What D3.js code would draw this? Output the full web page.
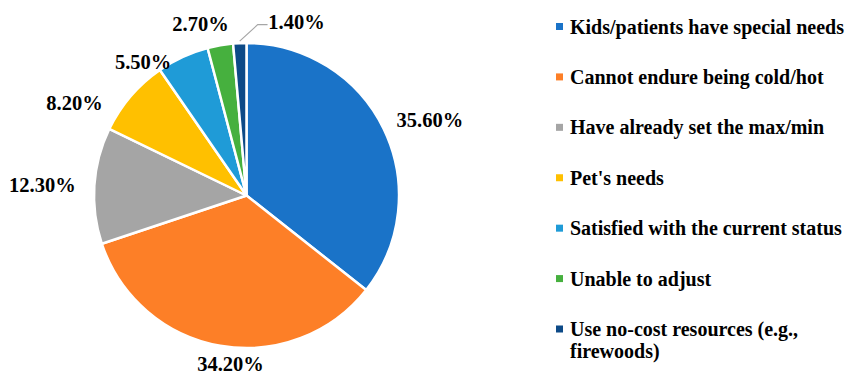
<!DOCTYPE html>
<html>
<head>
<meta charset="utf-8">
<script src="https://cdn.jsdelivr.net/npm/d3@7"></script>
<style>
  html, body { margin: 0; padding: 0; background: #fff; }
  svg { display: block; }
  text { font-family: "Liberation Serif", "Times New Roman", serif; font-weight: bold; fill: #000; }
</style>
</head>
<body>
<svg id="chart" width="846" height="374"></svg>
<script>
// Reasons for not adjusting the thermostat
const categories = [
  "Kids/patients have special needs",
  "Cannot endure being cold/hot",
  "Have already set the max/min",
  "Pet's needs",
  "Satisfied with the current status",
  "Unable to adjust",
  "Use no-cost resources (e.g., firewoods)"
];
const values = [35.6, 34.2, 12.3, 8.2, 5.5, 2.7, 1.4];
const colors = ["#1a73c8", "#fd7f27", "#a5a5a5", "#ffc000", "#1f9bd7", "#46b03e", "#0d4a87"];
const legendLines = [
  ["Kids/patients have special needs"],
  ["Cannot endure being cold/hot"],
  ["Have already set the max/min"],
  ["Pet's needs"],
  ["Satisfied with the current status"],
  ["Unable to adjust"],
  ["Use no-cost resources (e.g.,", "firewoods)"]
];

const svg = d3.select("#chart");
const cx = 246.5, cy = 195.5, r = 152.5;

const pie = d3.pie().sort(null).value(d => d);
const arcs = pie(values);
const arc = d3.arc().innerRadius(0).outerRadius(r);

const g = svg.append("g").attr("transform", `translate(${cx},${cy})`);
g.selectAll("path")
  .data(arcs)
  .join("path")
  .attr("d", arc)
  .attr("fill", (d, i) => colors[i])
  .attr("stroke", "#fff")
  .attr("stroke-width", 2.5)
  .attr("stroke-linejoin", "round");

// Data labels placed outside each slice, nudged so the small ones stay apart
const fmt = v => v.toFixed(2) + "%";
const labelArc = d3.arc().innerRadius(r + 28).outerRadius(r + 28);
const nudges = [[21, 3], [15, -9], [-24, 1], [-35, 25], [-28, 30], [-15, 6], [58, 7]];
const labelPos = arcs.map((d, i) => {
  const [x, y] = labelArc.centroid(d);
  return [x + nudges[i][0], y + nudges[i][1]];
});

g.selectAll("text.lbl")
  .data(arcs)
  .join("text")
  .attr("class", "lbl")
  .attr("x", (d, i) => labelPos[i][0])
  .attr("y", (d, i) => labelPos[i][1])
  .attr("text-anchor", "middle")
  .attr("dominant-baseline", "central")
  .attr("font-size", 20.5)
  .text(d => fmt(d.data));

// Leader line for the smallest slice
const last = arcs[arcs.length - 1];
const mid = (last.startAngle + last.endAngle) / 2;
const p0 = [Math.sin(mid) * (r + 2), -Math.cos(mid) * (r + 2)];
const lp = labelPos[arcs.length - 1];
const elbow = [p0[0] + 18, p0[1] - 16.5];
g.append("polyline")
  .attr("points", [p0, elbow, [lp[0] - 29, elbow[1]]].map(p => p.join(",")).join(" "))
  .attr("fill", "none")
  .attr("stroke", "#a6a6a6")
  .attr("stroke-width", 1.2);

// Legend
const leg = svg.append("g").attr("transform", "translate(556,0)");
const rowY = d3.scalePoint().domain(categories).range([26.5, 329]);
const items = leg.selectAll("g")
  .data(categories)
  .join("g")
  .attr("transform", d => `translate(0,${rowY(d)})`);
items.append("rect")
  .attr("x", 0).attr("y", -3.5)
  .attr("width", 7).attr("height", 7)
  .attr("fill", (d, i) => colors[i]);
items.append("text")
  .attr("font-size", 20)
  .attr("dominant-baseline", "central")
  .selectAll("tspan")
  .data((d, i) => legendLines[i])
  .join("tspan")
  .attr("x", 14)
  .attr("dy", (t, j) => j === 0 ? 0 : 21.5)
  .text(t => t);
</script>
</body>
</html>
